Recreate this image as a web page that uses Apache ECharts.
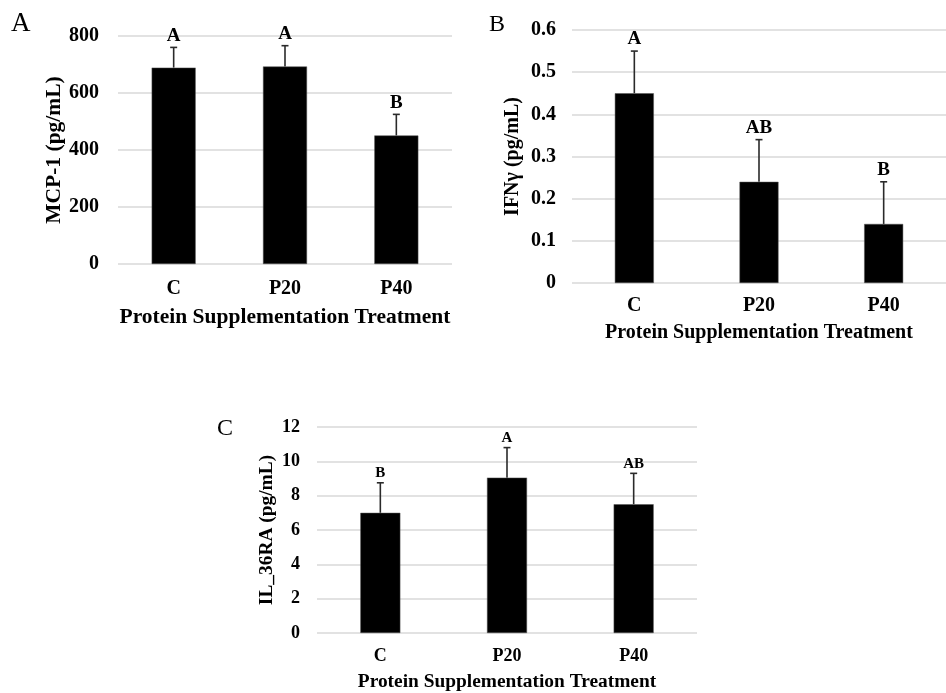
<!DOCTYPE html>
<html>
<head>
<meta charset="utf-8">
<script src="https://cdn.jsdelivr.net/npm/echarts@6/dist/echarts.min.js"></script>
<style>
html,body{margin:0;padding:0;background:#fff;}
#chart{width:946px;height:693px;}
</style>
</head>
<body>
<div id="chart"></div>
<script>
// ---- data ----
const categories = ['C', 'P20', 'P40'];
const xTitle = 'Protein Supplementation Treatment';

const mcp1Mean = [689, 693, 451];
const mcp1Upper = [760, 766, 525];
const mcp1Letters = ['A', 'A', 'B'];
const mcp1Axis = { name: 'MCP-1 (pg/mL)', max: 800, interval: 200 };

const ifngMean = [0.45, 0.24, 0.14];
const ifngUpper = [0.55, 0.34, 0.24];
const ifngLetters = ['A', 'AB', 'B'];
const ifngAxis = { name: 'IFNγ (pg/mL)', max: 0.6, interval: 0.1 };

const il36Mean = [7.0, 9.05, 7.5];
const il36Upper = [8.75, 10.8, 9.3];
const il36Letters = ['B', 'A', 'AB'];
const il36Axis = { name: 'IL_36RA (pg/mL)', max: 12, interval: 2 };

const panelLetters = ['A', 'B', 'C'];

// ---- chart ----
const FONT = 'Liberation Serif, Times New Roman, serif';
const chart = echarts.init(document.getElementById('chart'), null, { renderer: 'canvas' });

const panels = [
  { mean: mcp1Mean, upper: mcp1Upper, letters: mcp1Letters, axis: mcp1Axis,
    grid: { left: 118, top: 36, width: 334, height: 228 },
    labelSize: 20, titleSize: 21.5, letterSize: 19, barWidth: 44,
    yMargin: 19, xMargin: 15, xNameGap: 42, yNameGap: 52 },
  { mean: ifngMean, upper: ifngUpper, letters: ifngLetters, axis: ifngAxis,
    grid: { left: 572, top: 30, width: 386, height: 253 },
    labelSize: 20, titleSize: 20, letterSize: 19, barWidth: 39,
    yMargin: 16, xMargin: 13, xNameGap: 40, yNameGap: 49 },
  { mean: il36Mean, upper: il36Upper, letters: il36Letters, axis: il36Axis,
    grid: { left: 317, top: 427, width: 380, height: 206 },
    labelSize: 18, titleSize: 19.4, letterSize: 15, barWidth: 40,
    yMargin: 17, xMargin: 14, xNameGap: 39, yNameGap: 41 }
];

const grids = [], xAxes = [], yAxes = [], series = [];
panels.forEach((p, i) => {
  grids.push(Object.assign({ containLabel: false }, p.grid));
  xAxes.push({
    type: 'category', gridIndex: i, data: categories,
    axisLine: { show: false }, axisTick: { show: false },
    axisLabel: { color: '#000', fontFamily: FONT, fontWeight: 'bold', fontSize: p.labelSize, margin: p.xMargin },
    name: xTitle, nameLocation: 'middle', nameGap: p.xNameGap,
    nameTextStyle: { color: '#000', fontFamily: FONT, fontWeight: 'bold', fontSize: p.titleSize }
  });
  yAxes.push({
    type: 'value', gridIndex: i, min: 0, max: p.axis.max, interval: p.axis.interval,
    axisLine: { show: false }, axisTick: { show: false },
    splitLine: { lineStyle: { color: '#d9d9d9', width: 1.5 } },
    axisLabel: { color: '#000', fontFamily: FONT, fontWeight: 'bold', fontSize: p.labelSize, margin: p.yMargin },
    name: p.axis.name, nameLocation: 'middle', nameGap: p.yNameGap,
    nameTextStyle: { color: '#000', fontFamily: FONT, fontWeight: 'bold', fontSize: p.titleSize }
  });
  series.push({
    type: 'bar', xAxisIndex: i, yAxisIndex: i, data: p.mean, barWidth: p.barWidth,
    itemStyle: { color: '#000', borderColor: '#555', borderWidth: 0.5 }, silent: true
  });
  series.push({
    type: 'custom', xAxisIndex: i, yAxisIndex: i, silent: true,
    data: p.mean.map((m, k) => [k, m, p.upper[k]]),
    encode: { x: 0, y: [1, 2] },
    renderItem: (params, api) => {
      const k = api.value(0);
      const top = api.coord([k, api.value(1)]);
      const up = api.coord([k, api.value(2)]);
      const cw = 3.5;
      return {
        type: 'group',
        children: [
          { type: 'line', shape: { x1: top[0], y1: top[1], x2: up[0], y2: up[1] },
            style: { stroke: '#2a2a2a', lineWidth: 1.6 } },
          { type: 'line', shape: { x1: up[0] - cw, y1: up[1], x2: up[0] + cw, y2: up[1] },
            style: { stroke: '#2a2a2a', lineWidth: 1.6 } },
          { type: 'text', style: { text: p.letters[params.dataIndex], x: up[0], y: up[1] - 2,
            align: 'center', verticalAlign: 'bottom', fill: '#000',
            font: 'bold ' + p.letterSize + 'px ' + FONT } }
        ]
      };
    }
  });
});

const letterPos = [
  { left: 11, top: 10, size: 27 },
  { left: 489, top: 13, size: 24 },
  { left: 217, top: 417, size: 24 }
];
const graphics = panelLetters.map((t, i) => ({
  type: 'text', left: letterPos[i].left, top: letterPos[i].top,
  style: { text: t, fill: '#000', font: letterPos[i].size + 'px ' + FONT }
}));

chart.setOption({
  animation: false,
  backgroundColor: '#fff',
  grid: grids,
  xAxis: xAxes,
  yAxis: yAxes,
  series: series,
  graphic: graphics
});
</script>
</body>
</html>
